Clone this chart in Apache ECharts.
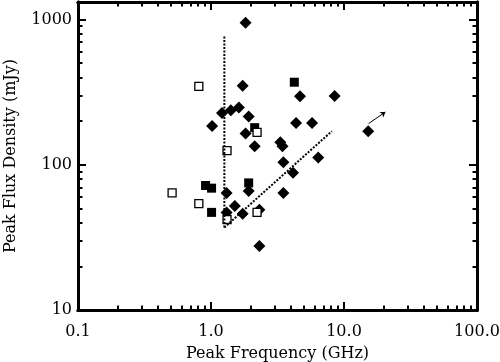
<!DOCTYPE html>
<html>
<head>
<meta charset="utf-8">
<script src="https://cdn.jsdelivr.net/npm/echarts@6/dist/echarts.min.js"></script>
<style>
html, body { margin: 0; padding: 0; background: #fff; }
#main { width: 500px; height: 362px; }
</style>
</head>
<body>
<div id="main"></div>
<script>
// peak frequency (GHz) and peak flux density (mJy)
var diamondX = [1.82, 1.73, 1.21, 1.41, 1.62, 1.92, 1.02, 1.82, 2.13, 4.67, 8.5, 4.36, 5.75, 3.32, 3.45, 6.4, 3.5, 4.14, 3.5, 1.92, 1.31, 1.51, 1.31, 1.73, 2.31, 2.31, 15.2];
var diamondY = [950, 350, 227, 237, 248, 215, 185, 164, 134, 296, 298, 194, 194, 143, 134, 112, 104, 88, 64, 66, 64, 52, 47, 46, 49, 27.6, 170];
var fillSqX = [4.23, 2.13, 1.92, 0.91, 1.01, 1.01];
var fillSqY = [370, 180, 75, 72, 69, 47];
var openSqX = [0.81, 2.22, 1.32, 0.51, 0.81, 2.22, 1.32];
var openSqY = [347, 167, 125, 64, 54, 47, 42];

// dotted guide lines and the limit arrow
var vLineX = [1.26, 1.26];
var vLineY = [37, 780];
var diagX = [1.26, 8.1];
var diagY = [37, 170];
var arrowX = [15.3, 20.5];
var arrowY = [192, 231];

// ticks
var xMajor = [0.1, 1, 10, 100];
var xLabels = ['0.1', '1.0', '10.0', '100.0'];
var xMinor = [0.2, 0.3, 0.4, 0.5, 0.6, 0.7, 0.8, 0.9, 2, 3, 4, 5, 6, 7, 8, 9, 20, 30, 40, 50, 60, 70, 80, 90];
var yMajor = [10, 100, 1000];
var yLabels = ['10', '100', '1000'];
var yMinor = [20, 30, 40, 50, 60, 70, 80, 90, 200, 300, 400, 500, 600, 700, 800, 900];

function pairs(xs, ys) {
    return xs.map(function (x, i) { return [x, ys[i]]; });
}

var font = 'DejaVu Serif';

function xAxis(pos, ticks, len, main) {
    return {
        type: 'log', logBase: 10, min: 0.1, max: 100, position: pos,
        name: main ? 'Peak Frequency (GHz)' : '',
        nameLocation: 'middle', nameGap: 36,
        nameTextStyle: { color: '#000', fontFamily: font, fontSize: 16 },
        axisLine: { show: true, lineStyle: { color: '#000', width: 3 } },
        axisTick: { show: true, inside: true, length: len, customValues: ticks,
            lineStyle: { color: '#000', width: 2 } },
        axisLabel: { show: main, customValues: xMajor, margin: 14,
            color: '#000', fontFamily: font, fontSize: 16,
            formatter: function (v) { return xLabels[Math.round(Math.log10(v)) + 1]; } },
        splitLine: { show: false }
    };
}

function yAxis(pos, ticks, len, main) {
    return {
        type: 'log', logBase: 10, min: 10, max: 1320, position: pos,
        name: main ? 'Peak Flux Density (mJy)' : '',
        nameLocation: 'middle', nameGap: 59,
        nameTextStyle: { color: '#000', fontFamily: font, fontSize: 16 },
        axisLine: { show: true, lineStyle: { color: '#000', width: 3 } },
        axisTick: { show: true, inside: true, length: len, customValues: ticks,
            lineStyle: { color: '#000', width: 2 } },
        axisLabel: { show: main, customValues: yMajor, margin: 6,
            color: '#000', fontFamily: font, fontSize: 16,
            formatter: function (v) { return yLabels[Math.round(Math.log10(v)) - 1]; } },
        splitLine: { show: false }
    };
}

var myChart = echarts.init(document.getElementById('main'));

var option = {
    animation: false,
    backgroundColor: '#fff',
    grid: { left: 78, right: 23, top: 2, bottom: 52, containLabel: false, outerBoundsMode: 'none' },
    xAxis: [
        xAxis('bottom', xMajor, 8, true),
        xAxis('bottom', xMinor, 4.5, false),
        xAxis('top', xMajor, 8, false),
        xAxis('top', xMinor, 4.5, false)
    ],
    yAxis: [
        yAxis('left', yMajor, 8, true),
        yAxis('left', yMinor, 4.5, false),
        yAxis('right', yMajor, 8, false),
        yAxis('right', yMinor, 4.5, false)
    ],
    series: [
        {
            type: 'scatter', symbol: 'diamond', symbolSize: 12,
            itemStyle: { color: '#000', opacity: 1 },
            data: pairs(diamondX, diamondY)
        },
        {
            type: 'scatter', symbol: 'rect', symbolSize: 9,
            itemStyle: { color: '#000', opacity: 1 },
            data: pairs(fillSqX, fillSqY)
        },
        {
            type: 'scatter', symbol: 'rect', symbolSize: 8,
            itemStyle: { color: '#fff', borderColor: '#000', borderWidth: 1.3, opacity: 1 },
            data: pairs(openSqX, openSqY)
        },
        {
            type: 'line', symbol: 'none', silent: true,
            lineStyle: { color: '#000', width: 2, type: [2, 1.5] },
            data: pairs(vLineX, vLineY)
        },
        {
            type: 'line', symbol: 'none', silent: true,
            lineStyle: { color: '#000', width: 2, type: [2, 1.5] },
            data: pairs(diagX, diagY)
        },
        {
            type: 'lines', coordinateSystem: 'cartesian2d',
            symbol: ['none', 'arrow'], symbolSize: 5,
            lineStyle: { color: '#000', width: 1, opacity: 1 },
            data: [{ coords: pairs(arrowX, arrowY) }]
        }
    ]
};

myChart.setOption(option);
</script>
</body>
</html>
